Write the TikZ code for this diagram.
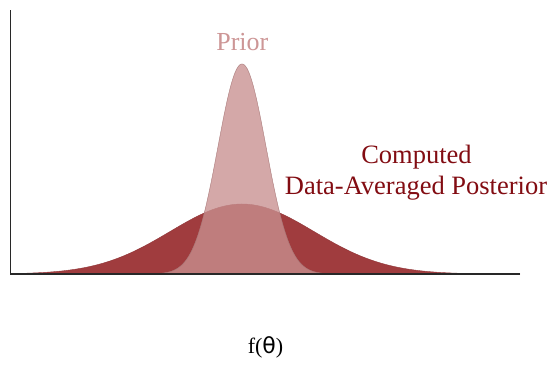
\documentclass[tikz,border=0pt]{standalone}
\usepackage{fontspec}
\setmainfont{Liberation Serif}
\newfontfamily\thetafont{DejaVu Sans}
\begin{document}
\begin{tikzpicture}[x=1pt,y=-1pt]
\definecolor{postc}{RGB}{160,60,62}
\definecolor{priorc}{RGB}{200,144,144}
\definecolor{priortext}{RGB}{205,150,150}
\definecolor{posttext}{RGB}{130,12,18}
\definecolor{axisc}{RGB}{40,40,40}
\tikzset{
  postfill/.style={fill=postc,draw=postc!90!black,line width=0.4pt},
  priorfill/.style={fill=priorc,fill opacity=0.78,draw=priorc!85!black,draw opacity=0.6,line width=0.4pt},
  axisline/.style={draw=axisc,line width=1.5pt},
  lbl/.style={inner sep=0pt,anchor=base}
}
\useasboundingbox (0,0) rectangle (551,370);
\fill[postfill] plot[domain=11:520,samples=200,smooth] (\x,{274-70*exp(-((\x-242)/72)^2/2)}) -- (520,274) -- (11,274) -- cycle;
\fill[priorfill] plot[domain=150:334,samples=200,smooth] (\x,{274-210*exp(-((\x-242)/24)^2/2)}) -- cycle;
\draw[priorc!85!black,opacity=0.6,line width=0.4pt] plot[domain=150:334,samples=200,smooth] (\x,{274-210*exp(-((\x-242)/24)^2/2)});
\coordinate (top) at (10.5,10);
\coordinate (origin) at (10.5,274);
\coordinate (right) at (520,274);
\draw[axisline] (top) -- (origin) -- (right);
\node[lbl,text=priortext,font=\fontsize{26}{30}\selectfont] (prior) at (242.3,50) {Prior};
\node[lbl,text=posttext,font=\fontsize{26.5}{31}\selectfont] (post1) at (416.5,163.3) {Computed};
\node[lbl,text=posttext,font=\fontsize{26.5}{31}\selectfont] (post2) at (416,194) {Data-Averaged Posterior};
\node[lbl,font=\fontsize{22}{26}\selectfont] (xlab) at (265.5,353.5) {f({\thetafont θ})};
\end{tikzpicture}
\end{document}
